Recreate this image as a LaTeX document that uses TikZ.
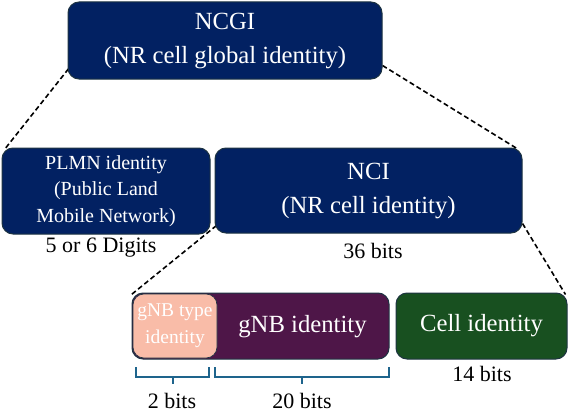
\documentclass[tikz,border=0pt]{standalone}
\usepackage{fontspec}
\setmainfont{Liberation Serif}
\usetikzlibrary{backgrounds}
\definecolor{navyc}{RGB}{2,33,98}
\definecolor{purplec}{RGB}{78,22,72}
\definecolor{greenc}{RGB}{24,80,32}
\definecolor{salmonc}{RGB}{249,188,168}
\definecolor{edgec}{RGB}{30,52,66}
\definecolor{bracec}{RGB}{30,100,140}
\begin{document}
\begin{tikzpicture}[x=1pt,y=-1pt,
  box/.style={draw=edgec, line width=1pt, rounded corners=11pt, text=white, align=center, inner sep=0pt},
  dline/.style={draw=black, line width=1.6pt, dash pattern=on 5pt off 3pt},
  bracel/.style={draw=bracec, line width=2pt},
  lbl/.style={text=black, inner sep=0pt, font=\fontsize{22}{26}\selectfont},
  big/.style={font=\fontsize{24.7}{34}\selectfont}]
\useasboundingbox (0,0) rectangle (570,412);
% boxes
\node[box, big, fill=navyc, minimum width=314pt, minimum height=77pt] (ncgi) at (225,40.5) {NCGI\\(NR cell global identity)};
\node[box, fill=navyc, minimum width=208pt, minimum height=86pt, font=\fontsize{20}{26.5}\selectfont] (plmn) at (106,191) {PLMN identity\\(Public Land\\Mobile Network)};
\node[box, big, fill=navyc, minimum width=307pt, minimum height=85pt] (nci) at (368.5,190.5) {NCI\\(NR cell identity)};
\node[box, big, fill=purplec, minimum width=257pt, minimum height=66pt] (gnb) at (260.5,326) {};
\node[box, fill=salmonc, line width=0.6pt, minimum width=84pt, minimum height=64pt, font=\fontsize{19.5}{27}\selectfont] (gnbt) at (175,326) {gNB type\\identity};
\node[text=white, inner sep=0pt, big] (gnbtxt) at (302.5,327) {gNB identity};
\node[box, big, fill=greenc, minimum width=171pt, minimum height=66pt] (cell) at (481.5,326) {Cell identity};
% dashed connectors
\begin{scope}[on background layer]
\draw[dline] ([shift={(6,-17)}]ncgi.south west) -- ([shift={(3,2)}]plmn.north west);
\draw[dline] ([shift={(0,-14)}]ncgi.south east) -- ([shift={(-4,2)}]nci.north east);
\draw[dline] ([shift={(2,-8)}]nci.south west) -- ([shift={(0,2)}]gnb.north west);
\draw[dline] ([shift={(0,-10)}]nci.south east) -- ([shift={(-2,2)}]cell.north east);
\end{scope}
% labels
\node[lbl] (l56) at (101,248) {5 or 6 Digits};
\node[lbl] (l36) at (373,251) {36 bits};
\node[lbl] (l14) at (482,374) {14 bits};
\node[lbl] (l2) at (172,401) {2 bits};
\node[lbl] (l20) at (302,401) {20 bits};
% braces
\draw[bracel] (136,367) -- (136,377) -- (209,377) -- (209,367);
\draw[bracel] (172.5,377) -- (172.5,384);
\draw[bracel] (215,367) -- (215,377) -- (389,377) -- (389,367);
\draw[bracel] (302,377) -- (302,384);
\end{tikzpicture}
\end{document}
